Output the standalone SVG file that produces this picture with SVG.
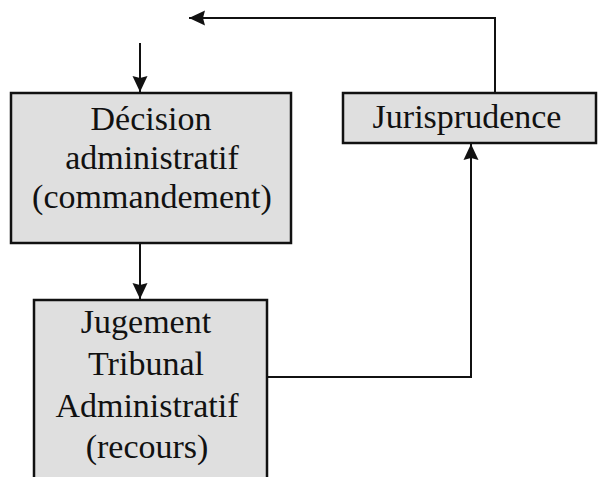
<svg xmlns="http://www.w3.org/2000/svg" width="598" height="477" viewBox="0 0 598 477">
<style>
.box{fill:#dfdfdf;stroke:#111;stroke-width:2.5}
.t{font-family:"Liberation Serif","Times New Roman",serif;font-size:34px;fill:#111;text-anchor:middle}
.c{fill:none;stroke:#111;stroke-width:2}
</style>
<defs>
<marker id="ah" markerUnits="userSpaceOnUse" markerWidth="18" markerHeight="18" viewBox="0 0 18 18" refX="16" refY="9" orient="auto">
<path d="M0,1.5 L16,9 L0,16.5 L2,9 Z" fill="#111"/>
</marker>
</defs>
<rect width="598" height="477" fill="#fff"/>
<g id="connectors">
<line class="c" x1="140" y1="43" x2="140" y2="92" marker-end="url(#ah)"/>
<line class="c" x1="140" y1="244" x2="140" y2="299" marker-end="url(#ah)"/>
<polyline class="c" points="495,93 495,18 189,18" marker-end="url(#ah)"/>
<polyline class="c" points="268,377 471,377 471,144" marker-end="url(#ah)"/>
</g>
<g id="decision">
<rect class="box" x="11" y="93" width="280" height="150"/>
<text class="t" x="151" y="130">Décision</text>
<text class="t" x="152" y="169">administratif</text>
<text class="t" x="152" y="208">(commandement)</text>
</g>
<g id="jugement">
<rect class="box" x="34" y="300" width="233" height="190"/>
<text class="t" x="146" y="333">Jugement</text>
<text class="t" x="146" y="375">Tribunal</text>
<text class="t" x="147" y="417">Administratif</text>
<text class="t" x="147" y="458">(recours)</text>
</g>
<g id="jurisprudence">
<rect class="box" x="343" y="93" width="253" height="50"/>
<text class="t" x="467" y="128">Jurisprudence</text>
</g>
</svg>
